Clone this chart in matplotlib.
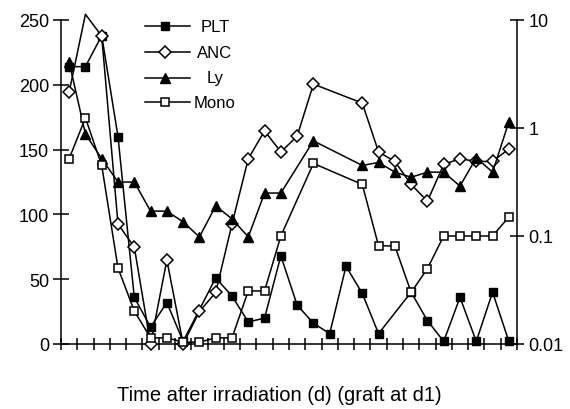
import numpy as np
import matplotlib
matplotlib.use("Agg")
import matplotlib.pyplot as plt
from matplotlib.lines import Line2D

plt.rcParams['font.family'] = ['Liberation Sans Narrow', 'Liberation Sans', 'DejaVu Sans']

nan = np.nan
days = np.arange(28)
plt_vals = [214, 214, 238, 160, 36, 13, 32, 2, nan, 51, 37, 17, 20, 68, 30, 16, 8,
            60, 39, 8, nan, 40, 18, 2, 36, 2, 40, 2]
anc_vals = [2.15, 11.3, 7.1, 0.129, 0.079, 0.01, 0.060, 0.01, 0.02, 0.03, 0.129, 0.52,
            0.94, 0.6, 0.84, 2.55, nan, nan, 1.70, 0.6, 0.49, 0.30, 0.21, 0.46, 0.52,
            0.49, 0.49, 0.64]
ly_vals = [4.08, 0.88, 0.52, 0.316, 0.316, 0.17, 0.17, 0.135, 0.098, 0.19, 0.144, 0.098,
           0.25, 0.25, nan, 0.76, nan, nan, 0.45, 0.48, 0.39, 0.35, 0.39, 0.39, 0.29,
           0.53, 0.39, 1.14]
mono_vals = [0.52, 1.24, 0.45, 0.0506, 0.0202, 0.0114, 0.0114, 0.0104, 0.0104, 0.0114,
             0.0114, 0.031, 0.031, 0.1, nan, 0.47, nan, nan, 0.30, 0.081, 0.081, 0.030,
             0.05, 0.1, 0.1, 0.1, 0.1, 0.15]
series_names = ["PLT", "ANC", "Ly", "Mono"]
left_ticks = [0, 50, 100, 150, 200, 250]
right_ticks = [0.01, 0.1, 1, 10]
right_labels = ["0.01", "0.1", "1", "10"]
xlabel = "Time after irradiation (d) (graft at d1)"

W, H = 570, 410
fig = plt.figure(figsize=(W / 100, H / 100), dpi=100)
ax = fig.add_axes([61 / W, 1 - 345 / H, (517 - 61) / W, (345 - 21) / H])
ax2 = ax.twinx()

lw = 1.1
styles = {
    "PLT": dict(marker='s', ms=6, mfc='black', mec='black', mew=1.0),
    "ANC": dict(marker='D', ms=6.2, mfc='white', mec='black', mew=1.1),
    "Ly": dict(marker='^', ms=7.5, mfc='black', mec='black', mew=1.0),
    "Mono": dict(marker='s', ms=6, mfc='white', mec='black', mew=1.1),
}

def valid(vals):
    v = np.array(vals, dtype=float)
    m = ~np.isnan(v)
    return days[m] + 0.5, v[m]

x, y = valid(plt_vals)
ax.plot(x, y, color='black', lw=lw, clip_on=False, zorder=3, **styles["PLT"])

x, y = valid(anc_vals)
ax2.plot(x, y, color='black', lw=lw, clip_on=False, zorder=3,
         markevery=[i for i in range(len(x)) if y[i] <= 10], **styles["ANC"])
x, y = valid(ly_vals)
ax2.plot(x, y, color='black', lw=lw, clip_on=False, zorder=4, **styles["Ly"])
x, y = valid(mono_vals)
ax2.plot(x, y, color='black', lw=lw, clip_on=False, zorder=5, **styles["Mono"])

ax.set_xlim(0, 28)
ax.set_ylim(0, 250)
ax.set_yticks(left_ticks)
ax.set_xticks(np.arange(0, 29))
ax.set_xticklabels([])
ax2.set_yscale('log')
ax2.set_ylim(0.01, 10)
ax2.set_yticks(right_ticks)
ax2.set_yticklabels(right_labels)
ax2.yaxis.set_minor_locator(matplotlib.ticker.NullLocator())

for a in (ax, ax2):
    a.spines['top'].set_visible(False)
    for s in a.spines.values():
        s.set_linewidth(1.1)
ax2.spines['left'].set_visible(False)
ax2.spines['bottom'].set_visible(False)
ax.spines['right'].set_visible(False)

ax.tick_params(axis='y', direction='inout', length=11, width=1.1, labelsize=13, pad=3)
ax.tick_params(axis='x', direction='inout', length=8.5, width=1.1)
ax2.tick_params(axis='y', direction='inout', length=10.5, width=1.1, labelsize=13, pad=3)

fig.text(279 / W, 1 - 401 / H, xlabel, ha='center', va='baseline', fontsize=14.5)

# legend drawn manually
rows = [27, 53, 79, 103]
for name, ry in zip(series_names, rows):
    st = styles[name]
    fy = 1 - ry / H
    fig.add_artist(Line2D([145 / W, 190 / W], [fy, fy], color='black', lw=lw,
                          transform=fig.transFigure))
    fig.add_artist(Line2D([165 / W], [fy], color='black', lw=0,
                          transform=fig.transFigure, **st))
    fig.text(215 / W, fy, name, ha='center', va='center', fontsize=12)

fig.savefig("out.png", dpi=100)
